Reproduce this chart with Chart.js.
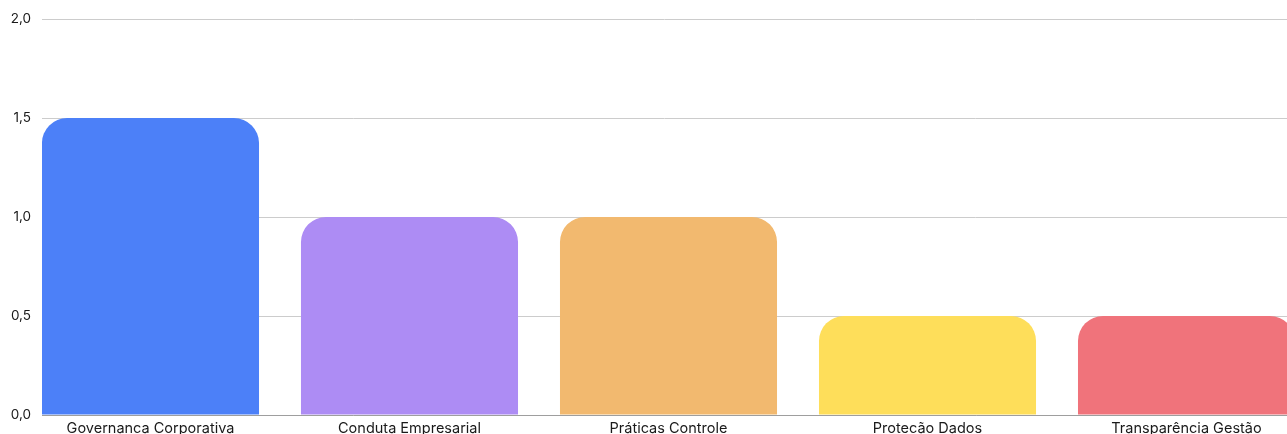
<!DOCTYPE html>
<html>
<head>
<meta charset="utf-8">
<script src="https://cdn.jsdelivr.net/npm/chart.js@4/dist/chart.umd.min.js"></script>
<style>
  html, body { margin: 0; padding: 0; background: #fff; overflow: hidden; }
  #wrap { position: relative; width: 1287px; height: 460px; }
</style>
</head>
<body>
<div id="wrap"><canvas id="c"></canvas></div>
<script>
const categories = ["Governanca Corporativa", "Conduta Empresarial", "Práticas Controle", "Protecão Dados", "Transparência Gestão"];
const values = [1.5, 1.0, 1.0, 0.5, 0.5];
const colors = ["#4c80f8", "#ad8cf4", "#f2b96f", "#fede5a", "#f0737b"];
const yTicks = [0, 0.5, 1.0, 1.5, 2.0];

const points = values.map((v, i) => ({ x: i, y: v }));

new Chart(document.getElementById('c'), {
  type: 'bar',
  data: {
    datasets: [{
      data: points,
      backgroundColor: colors,
      borderRadius: 25,
      borderSkipped: 'start',
      barPercentage: 0.838,
      categoryPercentage: 1.0
    }]
  },
  options: {
    responsive: true,
    maintainAspectRatio: false,
    animation: false,
    layout: { padding: { top: 19, right: 0, left: 0, bottom: 0 } },
    plugins: { legend: { display: false }, tooltip: { enabled: false } },
    scales: {
      x: {
        type: 'linear',
        offset: false,
        min: -0.4189,
        max: 4.388,
        grid: { display: false, drawTicks: false, offset: false },
        border: { display: true, color: '#9e9e9e', width: 1 },
        afterBuildTicks: (scale) => { scale.ticks = categories.map((_, i) => ({ value: i })); },
        afterFit: (scale) => { scale.height = 45; },
        ticks: {
          autoSkip: false,
          maxRotation: 0,
          padding: 5,
          color: '#1a1a1a',
          font: { family: 'Inter', size: 14.5 },
          callback: (v) => categories[v]
        }
      },
      y: {
        min: 0,
        max: 2,
        afterBuildTicks: (scale) => { scale.ticks = yTicks.map(v => ({ value: v })); },
        afterFit: (scale) => { scale.width = 42; },
        grid: { color: '#cccccc', drawTicks: false, lineWidth: 1 },
        border: { display: false },
        ticks: {
          padding: 11,
          color: '#1a1a1a',
          font: { family: 'Inter', size: 13.5 },
          callback: (v) => v.toFixed(1).replace('.', ',')
        }
      }
    }
  }
});
</script>
</body>
</html>
